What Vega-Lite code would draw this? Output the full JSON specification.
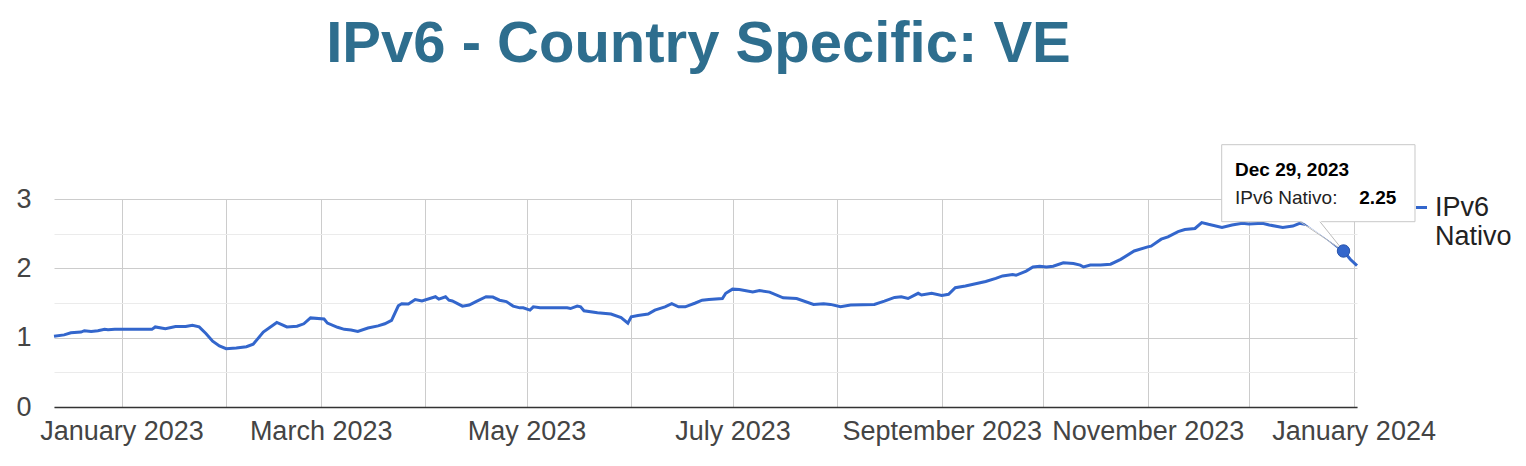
{
  "$schema": "https://vega.github.io/schema/vega-lite/v6.json",
  "width": 1303,
  "height": 208,
  "autosize": {"type": "none"},
  "padding": {"left": 54, "top": 199, "right": 169, "bottom": 59},
  "background": "white",
  "title": {
    "text": "IPv6 - Country Specific: VE",
    "font": "Liberation Sans",
    "fontSize": 58,
    "fontWeight": "bold",
    "color": "#2E6E8E",
    "anchor": "middle",
    "frame": "group",
    "baseline": "alphabetic",
    "offset": 24,
    "dx": -7
  },
  "config": {"view": {"stroke": null}, "font": "Liberation Sans"},
  "datasets": {
    "ipv6": [
      {"date": "2022-12-12", "value": 1.02},
      {"date": "2022-12-15", "value": 1.04},
      {"date": "2022-12-17", "value": 1.07},
      {"date": "2022-12-20", "value": 1.08},
      {"date": "2022-12-21", "value": 1.10},
      {"date": "2022-12-23", "value": 1.09},
      {"date": "2022-12-25", "value": 1.10},
      {"date": "2022-12-27", "value": 1.12},
      {"date": "2022-12-28", "value": 1.115},
      {"date": "2022-12-30", "value": 1.12},
      {"date": "2023-01-01", "value": 1.12},
      {"date": "2023-01-04", "value": 1.12},
      {"date": "2023-01-07", "value": 1.12},
      {"date": "2023-01-10", "value": 1.12},
      {"date": "2023-01-11", "value": 1.155},
      {"date": "2023-01-14", "value": 1.13},
      {"date": "2023-01-17", "value": 1.16},
      {"date": "2023-01-20", "value": 1.16},
      {"date": "2023-01-22", "value": 1.18},
      {"date": "2023-01-24", "value": 1.155},
      {"date": "2023-01-26", "value": 1.06},
      {"date": "2023-01-28", "value": 0.95},
      {"date": "2023-01-30", "value": 0.88},
      {"date": "2023-02-01", "value": 0.84},
      {"date": "2023-02-04", "value": 0.85},
      {"date": "2023-02-07", "value": 0.87},
      {"date": "2023-02-09", "value": 0.905},
      {"date": "2023-02-12", "value": 1.08},
      {"date": "2023-02-16", "value": 1.22},
      {"date": "2023-02-19", "value": 1.155},
      {"date": "2023-02-22", "value": 1.165},
      {"date": "2023-02-24", "value": 1.20},
      {"date": "2023-02-26", "value": 1.285},
      {"date": "2023-03-02", "value": 1.27},
      {"date": "2023-03-03", "value": 1.21},
      {"date": "2023-03-06", "value": 1.15},
      {"date": "2023-03-08", "value": 1.12},
      {"date": "2023-03-10", "value": 1.11},
      {"date": "2023-03-12", "value": 1.09},
      {"date": "2023-03-15", "value": 1.14},
      {"date": "2023-03-18", "value": 1.17},
      {"date": "2023-03-20", "value": 1.20},
      {"date": "2023-03-22", "value": 1.25},
      {"date": "2023-03-24", "value": 1.46},
      {"date": "2023-03-25", "value": 1.49},
      {"date": "2023-03-27", "value": 1.485},
      {"date": "2023-03-29", "value": 1.55},
      {"date": "2023-03-31", "value": 1.53},
      {"date": "2023-04-04", "value": 1.59},
      {"date": "2023-04-05", "value": 1.555},
      {"date": "2023-04-07", "value": 1.59},
      {"date": "2023-04-08", "value": 1.54},
      {"date": "2023-04-09", "value": 1.53},
      {"date": "2023-04-12", "value": 1.455},
      {"date": "2023-04-14", "value": 1.47},
      {"date": "2023-04-16", "value": 1.52},
      {"date": "2023-04-19", "value": 1.59},
      {"date": "2023-04-21", "value": 1.585},
      {"date": "2023-04-23", "value": 1.54},
      {"date": "2023-04-25", "value": 1.52},
      {"date": "2023-04-27", "value": 1.455},
      {"date": "2023-04-29", "value": 1.43},
      {"date": "2023-04-30", "value": 1.43},
      {"date": "2023-05-02", "value": 1.397},
      {"date": "2023-05-03", "value": 1.445},
      {"date": "2023-05-05", "value": 1.43},
      {"date": "2023-05-09", "value": 1.43},
      {"date": "2023-05-13", "value": 1.43},
      {"date": "2023-05-14", "value": 1.42},
      {"date": "2023-05-16", "value": 1.455},
      {"date": "2023-05-17", "value": 1.445},
      {"date": "2023-05-18", "value": 1.387},
      {"date": "2023-05-22", "value": 1.36},
      {"date": "2023-05-26", "value": 1.34},
      {"date": "2023-05-29", "value": 1.29},
      {"date": "2023-05-31", "value": 1.21},
      {"date": "2023-06-01", "value": 1.30},
      {"date": "2023-06-03", "value": 1.32},
      {"date": "2023-06-06", "value": 1.34},
      {"date": "2023-06-08", "value": 1.397},
      {"date": "2023-06-11", "value": 1.445},
      {"date": "2023-06-13", "value": 1.49},
      {"date": "2023-06-15", "value": 1.445},
      {"date": "2023-06-17", "value": 1.445},
      {"date": "2023-06-20", "value": 1.50},
      {"date": "2023-06-22", "value": 1.54},
      {"date": "2023-06-24", "value": 1.55},
      {"date": "2023-06-28", "value": 1.565},
      {"date": "2023-06-29", "value": 1.64},
      {"date": "2023-07-01", "value": 1.70},
      {"date": "2023-07-03", "value": 1.695},
      {"date": "2023-07-07", "value": 1.66},
      {"date": "2023-07-09", "value": 1.68},
      {"date": "2023-07-12", "value": 1.657},
      {"date": "2023-07-16", "value": 1.575},
      {"date": "2023-07-20", "value": 1.565},
      {"date": "2023-07-25", "value": 1.48},
      {"date": "2023-07-28", "value": 1.49},
      {"date": "2023-07-30", "value": 1.48},
      {"date": "2023-08-02", "value": 1.445},
      {"date": "2023-08-05", "value": 1.47},
      {"date": "2023-08-12", "value": 1.48},
      {"date": "2023-08-15", "value": 1.527},
      {"date": "2023-08-18", "value": 1.58},
      {"date": "2023-08-20", "value": 1.59},
      {"date": "2023-08-22", "value": 1.565},
      {"date": "2023-08-25", "value": 1.64},
      {"date": "2023-08-26", "value": 1.615},
      {"date": "2023-08-29", "value": 1.64},
      {"date": "2023-09-01", "value": 1.61},
      {"date": "2023-09-03", "value": 1.625},
      {"date": "2023-09-05", "value": 1.72},
      {"date": "2023-09-08", "value": 1.745},
      {"date": "2023-09-11", "value": 1.777},
      {"date": "2023-09-14", "value": 1.81},
      {"date": "2023-09-17", "value": 1.855},
      {"date": "2023-09-19", "value": 1.89},
      {"date": "2023-09-22", "value": 1.91},
      {"date": "2023-09-23", "value": 1.90},
      {"date": "2023-09-26", "value": 1.96},
      {"date": "2023-09-28", "value": 2.02},
      {"date": "2023-09-30", "value": 2.03},
      {"date": "2023-10-02", "value": 2.02},
      {"date": "2023-10-04", "value": 2.03},
      {"date": "2023-10-07", "value": 2.08},
      {"date": "2023-10-10", "value": 2.07},
      {"date": "2023-10-12", "value": 2.047},
      {"date": "2023-10-13", "value": 2.02},
      {"date": "2023-10-15", "value": 2.047},
      {"date": "2023-10-18", "value": 2.047},
      {"date": "2023-10-21", "value": 2.06},
      {"date": "2023-10-24", "value": 2.13},
      {"date": "2023-10-28", "value": 2.25},
      {"date": "2023-11-01", "value": 2.31},
      {"date": "2023-11-02", "value": 2.32},
      {"date": "2023-11-05", "value": 2.42},
      {"date": "2023-11-07", "value": 2.455},
      {"date": "2023-11-10", "value": 2.53},
      {"date": "2023-11-12", "value": 2.56},
      {"date": "2023-11-15", "value": 2.575},
      {"date": "2023-11-17", "value": 2.66},
      {"date": "2023-11-19", "value": 2.635},
      {"date": "2023-11-23", "value": 2.59},
      {"date": "2023-11-26", "value": 2.625},
      {"date": "2023-11-29", "value": 2.65},
      {"date": "2023-12-01", "value": 2.64},
      {"date": "2023-12-05", "value": 2.65},
      {"date": "2023-12-07", "value": 2.625},
      {"date": "2023-12-11", "value": 2.59},
      {"date": "2023-12-14", "value": 2.61},
      {"date": "2023-12-16", "value": 2.65},
      {"date": "2023-12-19", "value": 2.62},
      {"date": "2023-12-22", "value": 2.52},
      {"date": "2023-12-25", "value": 2.40},
      {"date": "2023-12-27", "value": 2.32},
      {"date": "2023-12-29", "value": 2.25},
      {"date": "2023-12-31", "value": 2.13},
      {"date": "2024-01-02", "value": 2.04}
    ]
  },
  "data": {"name": "ipv6"},
  "encoding": {
    "x": {
      "field": "date",
      "type": "temporal",
      "title": null,
      "scale": {
        "type": "utc",
        "nice": false,
        "domain": [
          {"year": 2022, "month": 12, "date": 12, "utc": true},
          {"year": 2024, "month": 1, "date": 2, "utc": true}
        ]
      },
      "axis": {
        "values": [
          {"year": 2023, "month": 1, "date": 1, "utc": true},
          {"year": 2023, "month": 2, "date": 1, "utc": true},
          {"year": 2023, "month": 3, "date": 1, "utc": true},
          {"year": 2023, "month": 4, "date": 1, "utc": true},
          {"year": 2023, "month": 5, "date": 1, "utc": true},
          {"year": 2023, "month": 6, "date": 1, "utc": true},
          {"year": 2023, "month": 7, "date": 1, "utc": true},
          {"year": 2023, "month": 8, "date": 1, "utc": true},
          {"year": 2023, "month": 9, "date": 1, "utc": true},
          {"year": 2023, "month": 10, "date": 1, "utc": true},
          {"year": 2023, "month": 11, "date": 1, "utc": true},
          {"year": 2023, "month": 12, "date": 1, "utc": true},
          {"year": 2024, "month": 1, "date": 1, "utc": true}
        ],
        "labelExpr": "utcmonth(datum.value) % 2 == 0 ? utcFormat(datum.value, '%B %Y') : ''",
        "grid": true,
        "gridColor": "#cccccc",
        "gridWidth": 1,
        "domain": true,
        "domainColor": "#333333",
        "domainWidth": 1.5,
        "ticks": false,
        "tickSize": 0,
        "labelFont": "Liberation Sans",
        "labelFontSize": 27,
        "labelColor": "#444444",
        "labelPadding": 11,
        "labelBaseline": "top",
        "labelLimit": 400,
        "labelOverlap": false,
        "labelFlush": false,
        "labelBound": false
      }
    },
    "y": {
      "field": "value",
      "type": "quantitative",
      "title": null,
      "scale": {"domain": [0, 3], "nice": false},
      "axis": {
        "values": [0, 0.5, 1, 1.5, 2, 2.5, 3],
        "labelExpr": "datum.value % 1 === 0 ? format(datum.value, 'd') : ''",
        "gridColor": {"condition": {"test": "datum.value % 1 === 0", "value": "#cccccc"}, "value": "#ebebeb"},
        "gridWidth": 1,
        "domain": false,
        "ticks": false,
        "tickSize": 0,
        "labelFont": "Liberation Sans",
        "labelFontSize": 27,
        "labelColor": "#444444",
        "labelPadding": 23,
        "labelBaseline": "middle",
        "labelFlush": false,
        "labelOverlap": false
      }
    }
  },
  "layer": [
    {
      "mark": {"type": "line", "strokeWidth": 3, "interpolate": "linear"},
      "encoding": {
        "color": {
          "datum": "IPv6 Nativo",
          "scale": {"range": ["#3366CC"]},
          "legend": {
            "orient": "none",
            "legendX": 1354,
            "legendY": -5,
            "title": null,
            "padding": 0,
            "symbolType": "stroke",
            "symbolSize": 121,
            "symbolStrokeWidth": 3,
            "labelFont": "Liberation Sans",
            "labelFontSize": 27,
            "labelColor": "#222222",
            "labelOffset": 0,
            "labelLimit": 200,
            "labelExpr": "['IPv6', 'Nativo']"
          }
        }
      }
    },
    {
      "transform": [{"filter": "utcyear(datum.date) == 2023 && utcmonth(datum.date) == 11 && utcdate(datum.date) == 29"}],
      "mark": {"type": "rect", "fill": "white", "stroke": "#c8c8c8", "strokeWidth": 1, "xOffset": -121.8, "x2Offset": 71.5, "yOffset": -106.3, "y2Offset": -29.3},
      "encoding": {"x2": {"field": "date"}, "y2": {"field": "value"}}
    },
    {
      "transform": [{"filter": "utcyear(datum.date) == 2023 && utcmonth(datum.date) == 11 && utcdate(datum.date) == 29"}],
      "mark": {"type": "point", "shape": "M 0 0 L -0.87 -0.62 L -0.47 -0.62 Z", "size": 10000, "filled": true, "fill": "white", "strokeWidth": 0, "opacity": 1}
    },
    {
      "transform": [{"filter": "utcyear(datum.date) == 2023 && utcmonth(datum.date) == 11 && utcdate(datum.date) == 29"}],
      "mark": {"type": "point", "shape": "M -0.87 -0.586 L 0 0 L -0.47 -0.586", "size": 10000, "filled": false, "stroke": "#bbbbbb", "strokeWidth": 1, "opacity": 1}
    },
    {
      "transform": [{"filter": "utcyear(datum.date) == 2023 && utcmonth(datum.date) == 11 && utcdate(datum.date) == 29"}],
      "mark": {"type": "point", "shape": "circle", "size": 154, "filled": true, "fill": "#3366CC", "stroke": "#2a55aa", "strokeWidth": 1, "opacity": 1}
    },
    {
      "transform": [{"filter": "utcyear(datum.date) == 2023 && utcmonth(datum.date) == 11 && utcdate(datum.date) == 29"}],
      "mark": {"type": "text", "align": "left", "baseline": "alphabetic", "dx": -108.5, "dy": -75, "font": "Liberation Sans", "fontSize": 19, "fontWeight": "bold", "color": "#000000"},
      "encoding": {"text": {"field": "date", "type": "temporal", "format": "%b %d, %Y", "formatType": "utc"}}
    },
    {
      "transform": [{"filter": "utcyear(datum.date) == 2023 && utcmonth(datum.date) == 11 && utcdate(datum.date) == 29"}],
      "mark": {"type": "text", "align": "left", "baseline": "alphabetic", "dx": -108.5, "dy": -47, "font": "Liberation Sans", "fontSize": 19, "color": "#222222", "text": "IPv6 Nativo:"}
    },
    {
      "transform": [{"filter": "utcyear(datum.date) == 2023 && utcmonth(datum.date) == 11 && utcdate(datum.date) == 29"}],
      "mark": {"type": "text", "align": "left", "baseline": "alphabetic", "dx": 15.8, "dy": -47, "font": "Liberation Sans", "fontSize": 19, "fontWeight": "bold", "color": "#000000"},
      "encoding": {"text": {"field": "value", "type": "quantitative", "format": ".2f"}}
    }
  ]
}
